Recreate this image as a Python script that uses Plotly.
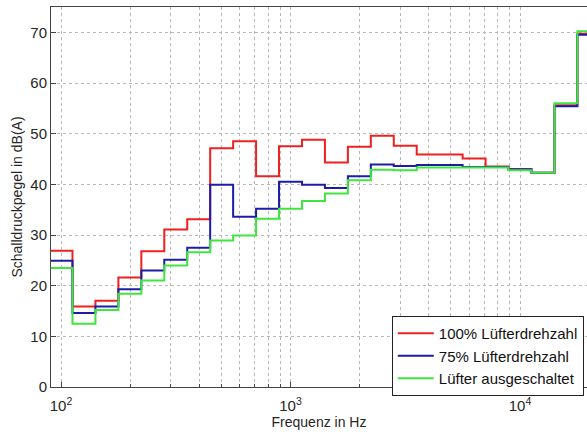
import numpy as np
import plotly.graph_objects as go

band_centers = [100, 125, 160, 200, 250, 315, 400, 500, 630, 800, 1000, 1250, 1600,
                2000, 2500, 3150, 4000, 5000, 6300, 8000, 10000, 12500, 16000, 20000]
red_100 = [26.9, 15.9, 17.0, 21.6, 26.8, 31.1, 33.1, 47.1, 48.5, 41.6, 47.5, 48.8, 44.3,
           47.4, 49.6, 47.6, 45.9, 45.9, 45.1, 43.5, 43.0, 42.3, 55.6, 69.7]
blue_75 = [24.9, 14.6, 15.9, 19.3, 23.0, 25.1, 27.5, 39.9, 33.6, 35.2, 40.5, 39.9, 39.3,
           41.6, 43.9, 43.6, 43.8, 43.8, 43.4, 43.4, 43.0, 42.3, 55.4, 69.5]
green_off = [23.5, 12.5, 15.2, 18.4, 21.0, 24.0, 26.6, 28.9, 29.9, 33.2, 35.2, 36.7, 38.2,
             40.8, 42.9, 42.8, 43.3, 43.3, 43.3, 43.3, 42.8, 42.3, 56.0, 70.2]
series_names = ["100% Lüfterdrehzahl", "75% Lüfterdrehzahl", "Lüfter ausgeschaltet"]
colors = ["#f02020", "#1c1ca6", "#3ee63e"]
decade_ticks = [100, 1000, 10000]
decade_labels = ["10<sup>2</sup>", "10<sup>3</sup>", "10<sup>4</sup>"]

# third-octave band edges derived from centers
logc = np.round(np.log10(band_centers) * 10) / 10
edges = list(10 ** (logc - 0.05)) + [10 ** (logc[-1] + 0.05)]

fig = go.Figure()
for name, vals, col in zip(series_names, [red_100, blue_75, green_off], colors):
    fig.add_trace(go.Scatter(x=edges, y=list(vals) + [vals[-1]], mode="lines",
                             line=dict(shape="hv", color=col, width=2), name=name))

minor_vals = [m * 10 ** d for d in range(2, 5) for m in range(2, 10) if m * 10 ** d <= 20000]

fam = "Arial, Liberation Sans, sans-serif"
font = dict(family=fam, size=14, color="#262626")
tickfont = dict(family=fam, size=15, color="#262626")
grid = dict(showgrid=True, gridcolor="#b8b8b8", griddash="dot", gridwidth=1)
fig.update_layout(
    width=587, height=432,
    margin=dict(l=51, r=0, t=7, b=45),
    paper_bgcolor="white", plot_bgcolor="white",
    font=font,
    showlegend=True,
    legend=dict(x=0.994, xanchor="right", y=0.187, yanchor="top",
                bgcolor="white", bordercolor="#222222", borderwidth=1,
                font=dict(family=fam, size=15, color="#111111"),
                tracegroupgap=0, itemwidth=36),
    xaxis=dict(type="log", range=[1.9564, 4.2919],
               tickmode="array", tickvals=decade_ticks, ticktext=decade_labels,
               tickfont=tickfont,
               ticks="inside", ticklen=5, tickcolor="#444444", ticklabelstandoff=5,
               minor=dict(tickmode="array", tickvals=minor_vals, ticks="inside", ticklen=3,
                          tickcolor="#444444", **grid),
               **grid,
               showline=True, linecolor="#444444", linewidth=1, mirror=True,
               zeroline=False,
               title=dict(text="Frequenz in Hz", standoff=3, font=font)),
    yaxis=dict(range=[0, 75], tickmode="array", tickvals=list(range(0, 71, 10)),
               tickfont=tickfont,
               ticks="inside", ticklen=5, tickcolor="#444444",
               **grid,
               showline=True, linecolor="#444444", linewidth=1, mirror=False,
               zeroline=False,
               title=dict(text="Schalldruckpegel in dB(A)", standoff=4, font=font)),
)
fig.write_html("out.html")
